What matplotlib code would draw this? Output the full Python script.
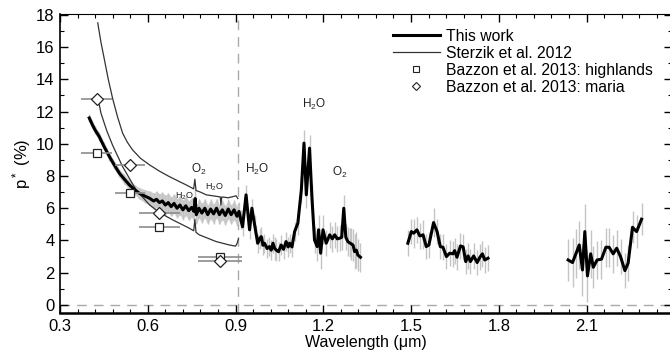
import matplotlib
matplotlib.use("Agg")
import matplotlib.pyplot as plt
import numpy as np
from matplotlib.ticker import AutoMinorLocator, MultipleLocator
from matplotlib.lines import Line2D

plt.rcParams['font.family'] = ['Liberation Sans', 'DejaVu Sans']
plt.rcParams['mathtext.fontset'] = 'custom'
plt.rcParams['mathtext.rm'] = 'Liberation Sans'
plt.rcParams['mathtext.default'] = 'regular'

# this work: visible + near-IR part 1
seg1_wl = [0.400, 0.410, 0.420, 0.434, 0.450, 0.469, 0.485, 0.503, 0.520, 0.537,
           0.555, 0.571, 0.590, 0.606, 0.620, 0.630, 0.640, 0.650, 0.660, 0.670,
           0.680, 0.690, 0.700, 0.710, 0.720, 0.730, 0.740, 0.750, 0.758, 0.762,
           0.766, 0.775, 0.785, 0.795, 0.805, 0.815, 0.825, 0.835, 0.845, 0.855,
           0.865, 0.875, 0.885, 0.895, 0.905, 0.912, 0.918, 0.924, 0.936, 0.948,
           0.956, 0.965, 0.971, 0.976, 0.982, 0.988, 0.994, 0.999, 1.008, 1.016,
           1.022, 1.028, 1.034, 1.039, 1.047, 1.056, 1.064, 1.073, 1.080, 1.085,
           1.093, 1.102, 1.113, 1.125, 1.134, 1.142, 1.153, 1.161, 1.170, 1.179,
           1.184, 1.191, 1.199, 1.210, 1.222, 1.231, 1.239, 1.248, 1.256, 1.263,
           1.270, 1.277, 1.284, 1.290, 1.296, 1.302, 1.307, 1.313, 1.318, 1.327]
seg1_p = [11.6, 11.2, 10.85, 10.45, 9.85, 9.2, 8.7, 8.17, 7.8, 7.45,
          7.15, 6.93, 6.75, 6.62, 6.45, 6.55, 6.35, 6.45, 6.2, 6.35,
          6.1, 6.3, 6.0, 6.2, 5.9, 6.15, 5.85, 6.05, 5.8, 6.6,
          5.6, 6.0, 5.7, 6.0, 5.6, 5.95, 5.65, 6.0, 5.6, 5.9,
          5.55, 5.95, 5.6, 5.9, 5.5, 5.8, 5.3, 4.85, 6.83, 4.66,
          6.0, 5.0, 4.35, 3.83, 4.1, 4.24, 3.7, 3.83, 3.5, 3.62,
          3.4, 3.83, 3.5, 3.41, 3.3, 3.72, 3.45, 3.93, 3.6, 3.83,
          3.6, 4.55, 5.07, 7.14, 10.04, 6.83, 9.73, 6.72, 4.03, 3.62,
          4.66, 3.21, 4.66, 3.83, 4.35, 4.1, 4.35, 4.1, 4.14, 4.2,
          6.0, 4.2, 3.93, 3.85, 3.79, 3.7, 3.31, 3.4, 3.1, 2.96]
seg1_err = [0.25, 0.25, 0.25, 0.25, 0.25, 0.25, 0.25, 0.25, 0.3, 0.3,
            0.3, 0.35, 0.4, 0.45, 0.5, 0.5, 0.55, 0.55, 0.6, 0.6,
            0.6, 0.6, 0.6, 0.6, 0.6, 0.6, 0.6, 0.6, 0.6, 0.6,
            0.6, 0.6, 0.6, 0.6, 0.6, 0.6, 0.6, 0.6, 0.6, 0.6,
            0.6, 0.6, 0.6, 0.6, 0.6, 0.6, 0.6, 0.6, 0.6, 0.6,
            0.6, 0.6, 0.6, 0.6, 0.6, 0.6, 0.6, 0.6, 0.6, 0.6,
            0.6, 0.6, 0.7, 0.7, 0.6, 0.6, 0.6, 0.6, 0.6, 0.6,
            0.6, 0.6, 0.7, 0.8, 0.8, 0.8, 0.8, 0.8, 0.8, 0.9,
            0.9, 1.0, 0.9, 0.8, 0.8, 0.8, 0.8, 0.8, 0.8, 0.8,
            0.8, 0.8, 0.9, 0.9, 1.0, 1.0, 1.1, 1.1, 1.0, 0.9]

# this work: H band
seg2_wl = [1.489, 1.501, 1.509, 1.520, 1.530, 1.541, 1.552, 1.561, 1.577, 1.589,
           1.600, 1.609, 1.621, 1.632, 1.643, 1.649, 1.657, 1.669, 1.678, 1.687,
           1.695, 1.703, 1.714, 1.726, 1.735, 1.744, 1.752, 1.763]
seg2_p = [3.83, 4.55, 4.45, 4.66, 4.28, 4.35, 3.62, 3.72, 5.11, 4.55,
          3.62, 3.58, 3.0, 3.21, 3.17, 3.37, 2.96, 3.66, 3.6, 2.69,
          3.04, 2.69, 3.04, 2.63, 2.95, 3.17, 2.79, 2.9]
seg2_err = [0.8, 0.8, 0.9, 0.8, 0.8, 0.9, 0.8, 0.8, 0.9, 0.8,
            0.8, 0.8, 0.8, 0.8, 0.8, 0.8, 0.8, 0.8, 0.8, 0.8,
            0.8, 0.8, 0.8, 0.8, 0.8, 0.8, 0.8, 0.8]

# this work: K band
seg3_wl = [2.037, 2.052, 2.064, 2.075, 2.086, 2.094, 2.103, 2.114, 2.123, 2.136,
           2.151, 2.166, 2.177, 2.191, 2.203, 2.216, 2.231, 2.242, 2.257, 2.271,
           2.288]
seg3_p = [2.79, 2.63, 3.2, 3.72, 2.17, 4.55, 1.8, 3.17, 2.34, 2.79,
          2.84, 3.58, 3.58, 3.17, 3.52, 3.0, 2.13, 2.59, 4.82, 4.55,
          5.32]
seg3_err = [1.3, 1.5, 1.5, 1.5, 1.6, 1.7, 1.6, 1.5, 1.3, 1.2,
            1.2, 1.2, 1.2, 1.2, 1.1, 1.1, 1.1, 1.1, 1.0, 1.0,
            1.0]

# Sterzik et al. 2012, two curves
sterzik_hi_wl = [0.429, 0.440, 0.452, 0.465, 0.480, 0.497, 0.514, 0.530, 0.548, 0.575,
                 0.606, 0.640, 0.674, 0.705, 0.731, 0.757, 0.761, 0.765, 0.780, 0.800,
                 0.830, 0.848, 0.850, 0.853, 0.875, 0.902, 0.908]
sterzik_hi_p = [17.5, 16.3, 15.2, 14.0, 12.8, 11.65, 10.66, 10.1, 9.62, 9.1,
                8.69, 8.3, 7.96, 7.68, 7.45, 7.2, 7.8, 7.1, 7.0, 6.83,
                6.75, 6.7, 6.2, 6.7, 6.65, 6.77, 6.6]
sterzik_lo_wl = [0.429, 0.440, 0.460, 0.480, 0.514, 0.560, 0.606, 0.640, 0.685, 0.742,
                 0.757, 0.761, 0.765, 0.776, 0.834, 0.879, 0.900, 0.905, 0.910]
sterzik_lo_p = [12.9, 11.9, 10.8, 9.9, 8.58, 7.14, 6.21, 5.73, 5.28, 4.76,
                4.6, 5.3, 4.5, 4.35, 3.93, 3.72, 3.65, 3.8, 4.1]

# Bazzon et al. 2013
bazzon_wl = [0.425, 0.539, 0.639, 0.848]
bazzon_wl_err = [0.052, 0.05, 0.07, 0.075]
highlands_p = [9.45, 6.93, 4.86, 2.96]
maria_p = [12.77, 8.69, 5.73, 2.75]

fig = plt.figure(figsize=(6.7, 3.58), dpi=100)
ax = fig.add_axes([60 / 670, 45 / 358, 612 / 670, 299 / 358])

ax.axvline(0.91, color='#aaaaaa', lw=1, dashes=(7, 5), zorder=1)
ax.axhline(0, color='#aaaaaa', lw=1, dashes=(7, 5), zorder=1)

# dense error band of the visible spectrum
w1 = np.array(seg1_wl)
p1 = np.array(seg1_p)
e1 = np.array(seg1_err)
vis = w1 <= 0.912
ax.fill_between(w1[vis], p1[vis] - e1[vis], p1[vis] + e1[vis], color='#cccccc', lw=0, zorder=2)

for wl, p, err in [(seg1_wl, seg1_p, seg1_err), (seg2_wl, seg2_p, seg2_err),
                   (seg3_wl, seg3_p, seg3_err)]:
    ax.errorbar(wl, p, yerr=err, fmt='none', ecolor='#c4c4c4', elinewidth=1.0, zorder=2)
    ax.plot(wl, p, color='black', lw=2.2, zorder=4)

ax.plot(sterzik_hi_wl, sterzik_hi_p, color='#333333', lw=0.9, zorder=3)
ax.plot(sterzik_lo_wl, sterzik_lo_p, color='#333333', lw=0.9, zorder=3)

ax.errorbar(bazzon_wl, highlands_p, xerr=bazzon_wl_err, fmt='s', ms=6, mfc='white',
            mec='#222222', mew=0.9, ecolor='#8c8c8c', elinewidth=1.2, zorder=5)
ax.errorbar(bazzon_wl, maria_p, xerr=bazzon_wl_err, fmt='D', ms=6.5, mfc='white',
            mec='#222222', mew=0.9, ecolor='#8c8c8c', elinewidth=1.2, zorder=5)

# absorption band labels
ax.text(0.775, 8.4, 'O$_2$', fontsize=8.5, ha='center', va='center', color='#222222')
ax.text(0.726, 6.77, 'H$_2$O', fontsize=6.5, ha='center', va='center', color='#222222')
ax.text(0.828, 7.3, 'H$_2$O', fontsize=6.5, ha='center', va='center', color='#222222')
ax.text(0.975, 8.38, 'H$_2$O', fontsize=8.5, ha='center', va='center', color='#222222')
ax.text(1.167, 12.41, 'H$_2$O', fontsize=8.5, ha='center', va='center', color='#222222')
ax.text(1.255, 8.2, 'O$_2$', fontsize=8.5, ha='center', va='center', color='#222222')

ax.set_xlim(0.3, 2.392)
ax.set_ylim(-0.5, 18.05)
ax.set_xticks([0.3, 0.6, 0.9, 1.2, 1.5, 1.8, 2.1])
ax.set_xticklabels(['0.3', '0.6', '0.9', '1.2', '1.5', '1.8', '2.1'])
ax.xaxis.set_minor_locator(AutoMinorLocator(5))
ax.yaxis.set_major_locator(MultipleLocator(2))
ax.yaxis.set_minor_locator(AutoMinorLocator(2))
ax.tick_params(which='both', direction='in', top=True, right=True, labelsize=12, pad=4)
ax.tick_params(which='major', length=6, width=1)
ax.tick_params(which='minor', length=3, width=0.8)
ax.spines['bottom'].set_linewidth(1.8)
ax.spines['left'].set_linewidth(1.2)

ax.set_xlabel('Wavelength (\u03bcm)', fontsize=11.5, labelpad=1)
ax.set_ylabel('p$^*$ (%)', fontsize=12, labelpad=2)

handles = [Line2D([], [], color='black', lw=2.2),
           Line2D([], [], color='#333333', lw=0.9),
           Line2D([], [], ls='none', marker='s', ms=4.5, mfc='white', mec='#222222', mew=0.8),
           Line2D([], [], ls='none', marker='D', ms=4.5, mfc='white', mec='#222222', mew=0.8)]
labels = ['This work', 'Sterzik et al. 2012', 'Bazzon et al. 2013: highlands',
          'Bazzon et al. 2013: maria']
ax.legend(handles, labels, loc='upper left', bbox_to_anchor=(0.544, 0.95), frameon=False,
          fontsize=11.3, handlelength=3.0, handletextpad=0.4, labelspacing=0.12,
          borderpad=0, borderaxespad=0)

fig.savefig('out.png', dpi=100)
